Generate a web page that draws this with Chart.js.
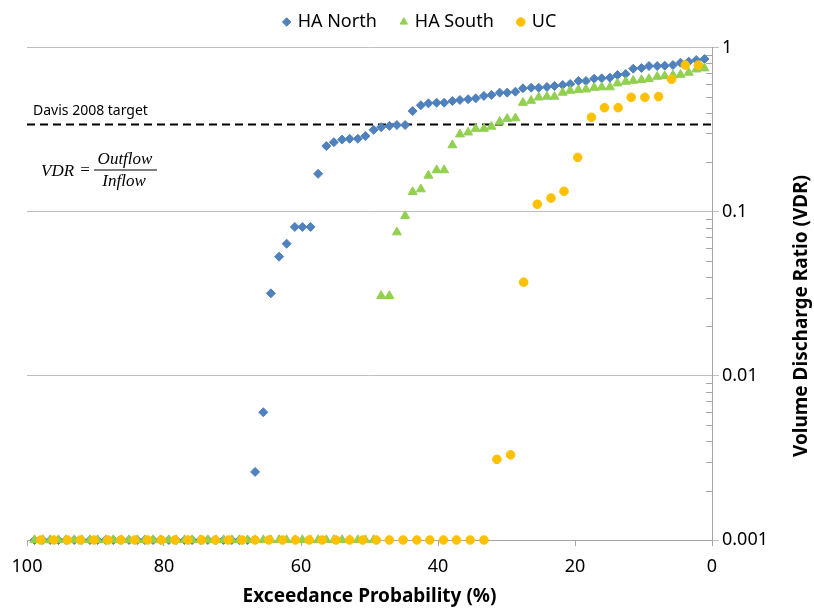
<!DOCTYPE html>
<html lang="en">
<head>
<meta charset="UTF-8">
<title>Volume Discharge Ratio</title>
<script src="https://cdn.jsdelivr.net/npm/chart.js"></script>
<style>
  body { margin: 0; background: #fff; }
</style>
</head>
<body>
<canvas id="vdrChart" width="814" height="610"></canvas>
<script>
// exceedance probability (%) of each storm at the HA sites
const stormExceedance = [
  1.1, 2.3, 3.4, 4.6, 5.7, 6.9, 8.0, 9.2, 10.3, 11.5,
  12.6, 13.8, 14.9, 16.1, 17.2, 18.4, 19.5, 20.7, 21.8, 23.0,
  24.1, 25.3, 26.4, 27.6, 28.7, 29.9, 31.0, 32.2, 33.3, 34.5,
  35.6, 36.8, 37.9, 39.1, 40.2, 41.4, 42.5, 43.7, 44.8, 46.0,
  47.1, 48.3, 49.4, 50.6, 51.7, 52.9, 54.0, 55.2, 56.3, 57.5,
  58.6, 59.8, 60.9, 62.1, 63.2, 64.4, 65.5, 66.7, 67.8, 69.0,
  70.1, 71.3, 72.4, 73.6, 74.7, 75.9, 77.0, 78.2, 79.3, 80.5,
  81.6, 82.8, 83.9, 85.1, 86.2, 87.4, 88.5, 89.7, 90.8, 92.0,
  93.1, 94.3, 95.4, 96.6, 97.7, 98.9
];
const northVDR = [
  0.851, 0.839, 0.820, 0.808, 0.782, 0.775, 0.771, 0.771, 0.750, 0.743,
  0.690, 0.680, 0.655, 0.649, 0.646, 0.625, 0.625, 0.600, 0.591, 0.583,
  0.575, 0.569, 0.569, 0.564, 0.538, 0.531, 0.531, 0.514, 0.507, 0.490,
  0.484, 0.479, 0.472, 0.461, 0.461, 0.457, 0.445, 0.410, 0.337, 0.337,
  0.333, 0.327, 0.315, 0.289, 0.278, 0.278, 0.275, 0.265, 0.251, 0.170,
  0.0807, 0.0807, 0.0807, 0.0638, 0.0532, 0.0318, 0.0060, 0.0026, 0.001, 0.001,
  0.001, 0.001, 0.001, 0.001, 0.001, 0.001, 0.001, 0.001, 0.001, 0.001,
  0.001, 0.001, 0.001, 0.001, 0.001, 0.001, 0.001, 0.001, 0.001, 0.001,
  0.001, 0.001, 0.001, 0.001, 0.001, 0.001
];
const southVDR = [
  0.747, 0.736, 0.703, 0.683, 0.677, 0.670, 0.664, 0.643, 0.634, 0.628,
  0.619, 0.605, 0.573, 0.573, 0.569, 0.556, 0.551, 0.546, 0.531, 0.502,
  0.502, 0.497, 0.474, 0.461, 0.371, 0.368, 0.353, 0.330, 0.320, 0.320,
  0.304, 0.296, 0.254, 0.179, 0.179, 0.166, 0.137, 0.132, 0.0942, 0.0749,
  0.0307, 0.0307, 0.001, 0.001, 0.001, 0.001, 0.001, 0.001, 0.001, 0.001,
  0.001, 0.001, 0.001, 0.001, 0.001, 0.001, 0.001, 0.001, 0.001, 0.001,
  0.001, 0.001, 0.001, 0.001, 0.001, 0.001, 0.001, 0.001, 0.001, 0.001,
  0.001, 0.001, 0.001, 0.001, 0.001, 0.001, 0.001, 0.001, 0.001, 0.001,
  0.001, 0.001, 0.001, 0.001, 0.001, 0.001
];
// UC site has fewer storms
const ucExceedance = [
  2.0, 3.9, 5.9, 7.8, 9.8, 11.8, 13.7, 15.7, 17.6, 19.6,
  21.6, 23.5, 25.5, 27.5, 29.4, 31.4, 33.3, 35.3, 37.3, 39.2,
  41.2, 43.1, 45.1, 47.1, 49.0, 51.0, 52.9, 54.9, 56.9, 58.8,
  60.8, 62.7, 64.7, 66.7, 68.6, 70.6, 72.5, 74.5, 76.5, 78.4,
  80.4, 82.4, 84.3, 86.3, 88.2, 90.2, 92.2, 94.1, 96.1, 98.0
];
const ucVDR = [
  0.782, 0.782, 0.640, 0.502, 0.497, 0.497, 0.430, 0.430, 0.376, 0.214,
  0.133, 0.121, 0.111, 0.0372, 0.0033, 0.0031, 0.001, 0.001, 0.001, 0.001,
  0.001, 0.001, 0.001, 0.001, 0.001, 0.001, 0.001, 0.001, 0.001, 0.001,
  0.001, 0.001, 0.001, 0.001, 0.001, 0.001, 0.001, 0.001, 0.001, 0.001,
  0.001, 0.001, 0.001, 0.001, 0.001, 0.001, 0.001, 0.001, 0.001, 0.001
];
const davisTarget = 0.34;
const vdrTicks = [0.001, 0.01, 0.1, 1];
const xTickStep = 20;

const toPoints = (xs, ys) => xs.map((x, i) => ({ x: x, y: ys[i] }));

Chart.defaults.font.family = "'Noto Sans', sans-serif";
Chart.defaults.color = '#000';

// fixes the legend band height so the plot top lands where it should
const legendBand = {
  id: 'legendBand',
  beforeInit(chart) {
    const fit = chart.legend.fit;
    chart.legend.fit = function () {
      fit.call(this);
      this.height = 59.5;
    };
  }
};

const extras = {
  id: 'extras',
  afterDraw(chart) {
    const { ctx, chartArea, scales } = chart;
    const y = scales.y;
    ctx.save();
    // minor ticks on the log axis
    ctx.strokeStyle = '#a6a6a6';
    ctx.lineWidth = 1;
    for (let k = -3; k < 0; k++) {
      for (let m = 2; m <= 9; m++) {
        const py = Math.round(y.getPixelForValue(m * Math.pow(10, k))) + 0.5;
        ctx.beginPath();
        ctx.moveTo(chartArea.right - 6, py);
        ctx.lineTo(chartArea.right, py);
        ctx.stroke();
      }
    }
    // y title, reads bottom to top
    ctx.fillStyle = '#000';
    ctx.save();
    ctx.translate(802, 316);
    ctx.rotate(-Math.PI / 2);
    ctx.font = "bold 19px 'Noto Sans'";
    ctx.textAlign = 'center';
    ctx.textBaseline = 'middle';
    ctx.fillText('Volume Discharge Ratio (VDR)', 0, 0);
    ctx.restore();

    // target label
    ctx.font = "14px 'Noto Sans'";
    ctx.textAlign = 'left';
    ctx.textBaseline = 'alphabetic';
    ctx.fillText('Davis 2008 target', 33, 115);

    // VDR = Outflow / Inflow
    ctx.font = "italic 17px 'Liberation Serif'";
    ctx.textBaseline = 'middle';
    ctx.fillText('VDR', 41, 172);
    ctx.font = "17px 'Liberation Serif'";
    ctx.textAlign = 'center';
    ctx.fillText('=', 85, 171);
    ctx.font = "italic 17px 'Liberation Serif'";
    ctx.fillText('Outflow', 125, 160);
    ctx.fillText('Inflow', 124, 182);
    ctx.fillRect(94, 169.5, 63, 1);
    ctx.restore();
  }
};

new Chart(document.getElementById('vdrChart'), {
  type: 'scatter',
  data: {
    datasets: [
      {
        label: 'HA North',
        data: toPoints(stormExceedance, northVDR),
        pointStyle: 'rectRot',
        pointRadius: 4.5,
        backgroundColor: '#4f81bd',
        borderColor: '#4f81bd',
        borderWidth: 1,
        order: 3,
        clip: false
      },
      {
        label: 'HA South',
        data: toPoints(stormExceedance, southVDR),
        pointStyle: 'triangle',
        pointRadius: 5.2,
        backgroundColor: '#92d050',
        borderColor: '#92d050',
        borderWidth: 1,
        order: 2,
        clip: false
      },
      {
        label: 'UC',
        data: toPoints(ucExceedance, ucVDR),
        pointStyle: 'circle',
        pointRadius: 4.3,
        backgroundColor: '#ffc000',
        borderColor: '#ffc000',
        borderWidth: 1,
        order: 1,
        clip: false
      },
      {
        label: 'Davis 2008 target',
        type: 'line',
        data: [{ x: 100, y: davisTarget }, { x: 0, y: davisTarget }],
        borderColor: '#000',
        borderWidth: 2,
        borderDash: [8, 5],
        pointRadius: 0,
        order: 4
      }
    ]
  },
  options: {
    responsive: false,
    devicePixelRatio: 1,
    animation: false,
    events: [],
    layout: { padding: { top: -12, left: 27, right: 0, bottom: 0 } },
    plugins: {
      tooltip: { enabled: false },
      legend: {
        position: 'top',
        labels: {
          usePointStyle: true,
          boxWidth: 4,
          boxHeight: 6,
          padding: 25,
          color: '#000',
          font: { size: 18 },
          filter: item => item.text !== 'Davis 2008 target',
          sort: (a, b) => a.datasetIndex - b.datasetIndex
        }
      }
    },
    scales: {
      x: {
        type: 'linear',
        reverse: true,
        min: 0,
        max: 100,
        afterFit: s => { s.height = 70; },
        ticks: { stepSize: xTickStep, color: '#000', font: { size: 18 }, padding: 10, maxRotation: 0 },
        grid: { drawOnChartArea: false, color: '#a6a6a6', tickLength: 6 },
        border: { color: '#a6a6a6' },
        title: {
          display: true,
          text: 'Exceedance Probability (%)',
          color: '#000',
          font: { size: 19, weight: 'bold' },
          padding: { top: 0, bottom: 2 }
        }
      },
      y: {
        type: 'logarithmic',
        position: 'right',
        min: 0.001,
        max: 1,
        afterBuildTicks: s => { s.ticks = vdrTicks.map(v => ({ value: v })); },
        afterFit: s => { s.width = 102; },
        ticks: { color: '#000', font: { size: 18 }, padding: 3, callback: v => String(v) },
        grid: { color: '#bfbfbf', tickLength: 7 },
        border: { color: '#a6a6a6' }
      }
    }
  },
  plugins: [legendBand, extras]
});
</script>
</body>
</html>
